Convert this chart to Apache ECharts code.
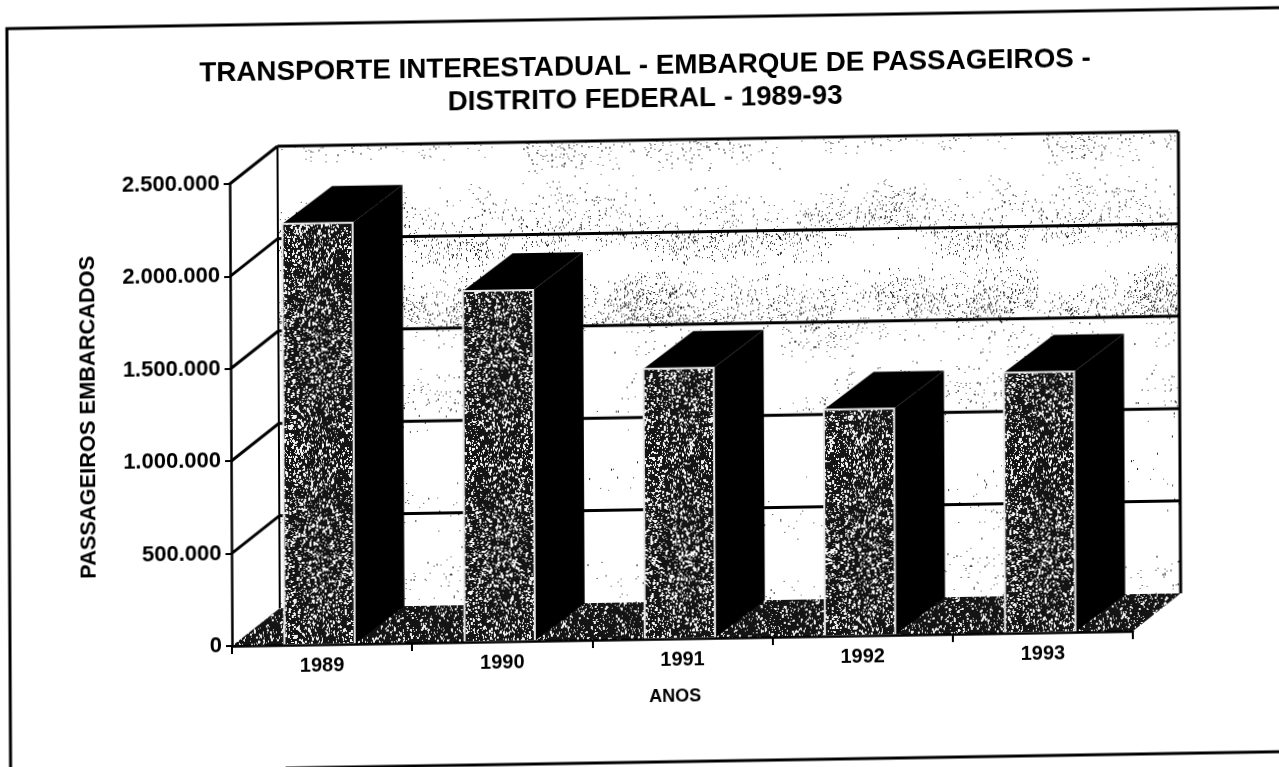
<!DOCTYPE html>
<html><head><meta charset="utf-8">
<style>
html,body{margin:0;padding:0;background:#fff;overflow:hidden;width:1279px;height:767px}
#c{position:absolute;left:0;top:0;width:1340px;height:830px;transform-origin:232px 646px;transform:matrix(1,-0.0165,0.005,1,0,0)}
</style>
<script src="https://cdn.jsdelivr.net/npm/echarts@6/dist/echarts.min.js"></script>
</head><body><div id="c"></div>
<script>
const titleLines = ['TRANSPORTE INTERESTADUAL - EMBARQUE DE PASSAGEIROS -','DISTRITO FEDERAL - 1989-93'];
const years = ['1989','1990','1991','1992','1993'];
const passengers = [2280000,1900000,1463000,1225000,1409000];
const yTicks = [0,500000,1000000,1500000,2000000,2500000];
const yName = 'PASSAGEIROS EMBARCADOS';
const xName = 'ANOS';
const wallDensity = [0.6,0.2,0.8,2,1.1];

function rng(seed){let s=seed;return ()=>{s=(s*1664525+1013904223)>>>0;return s/4294967296;};}
function speckle(w,h,bg,fg,count,seed){
  const c=document.createElement('canvas');c.width=w;c.height=h;
  const g=c.getContext('2d'),r=rng(seed);
  if(bg){g.fillStyle=bg;g.fillRect(0,0,w,h);}
  g.fillStyle=fg;
  for(let i=0;i<count;i++){const x=r()*w|0,y=r()*h|0,a=r();
    g.fillRect(x,y,a>.8?2:1,a>.93?3:(a>.55?2:1));}
  return c;
}
function wallTexture(dens,seed){
  const w=520,h=93,c=document.createElement('canvas');c.width=w;c.height=h;
  const g=c.getContext('2d'),r=rng(seed);g.fillStyle='#111';
  const clusters=Math.round(8+8*dens);
  for(let k=0;k<clusters;k++){
    const cx=r()*w,cy=20+r()*50,n=Math.round(55*dens);
    for(let i=0;i<n;i++){
      const x=cx+(r()+r()+r()-1.5)*45,y=cy+(r()+r()-1)*30;
      g.globalAlpha=.6+.4*r();
      g.fillRect(x|0,y|0,1,r()>.7?2:1);
    }
  }
  return c;
}
const frontTex={image:speckle(140,220,'#141414','#f4f4f4',4600,11),repeat:'repeat'};
const floorTex={image:speckle(140,60,'#141414','#f0f0f0',800,23),repeat:'repeat'};
const wallTex=wallDensity.map((d,i)=>({image:wallTexture(d,101+i*37),repeat:'repeat'}));

const wallDX=48,wallDY=-37,barDX=50,barDY=-37;
const poly=(pts,style)=>({type:'polygon',shape:{points:pts},style});
const line=(a,b,w)=>({type:'line',shape:{x1:a[0],y1:a[1],x2:b[0],y2:b[1]},style:{stroke:'#000',lineWidth:w}});

const chart=echarts.init(document.getElementById('c'),null,{renderer:'canvas'});
chart.setOption({
  animation:false,
  backgroundColor:'#fff',
  textStyle:{fontFamily:'"Liberation Sans",Arial,sans-serif'},
  title:{text:titleLines.join('\n'),left:643,top:52,textAlign:'center',
    textStyle:{fontSize:27.8,fontWeight:'bold',color:'#000',lineHeight:33,fontFamily:'"Liberation Sans",Arial,sans-serif'}},
  grid:{left:232,top:184,width:901,height:462,containLabel:false},
  graphic:[
    {type:'polyline',shape:{points:[[1340,25],[10,25],[10,830]]},style:{stroke:'#000',lineWidth:3,fill:null},z:1},
    {type:'line',shape:{x1:285,y1:769,x2:1340,y2:769},style:{stroke:'#000',lineWidth:3},z:1}
  ],
  xAxis:{type:'category',data:years,
    name:xName,nameLocation:'middle',nameGap:49,
    nameTextStyle:{fontSize:18,fontWeight:'bold',color:'#000',padding:[0,15,0,0]},
    axisLine:{lineStyle:{color:'#000',width:2.5}},
    axisTick:{show:true,length:8,lineStyle:{color:'#000',width:2}},
    axisLabel:{fontSize:20,fontWeight:'bold',color:'#000',margin:11},
    z:5},
  yAxis:{type:'value',min:0,max:2500000,interval:500000,
    name:yName,nameLocation:'middle',nameGap:125,nameRotate:90,
    nameTextStyle:{fontSize:21.8,fontWeight:'bold',color:'#000',padding:[0,0,6,0]},
    splitLine:{show:false},
    axisLine:{show:true,lineStyle:{color:'#000',width:2.5}},
    axisTick:{show:true,length:6,lineStyle:{color:'#000',width:2}},
    axisLabel:{fontSize:22,fontWeight:'bold',color:'#000',margin:10,
      formatter:v=>String(v).replace(/\B(?=(\d{3})+$)/g,'.')},
    z:5},
  series:[
    {type:'custom',coordinateSystem:'cartesian2d',silent:true,clip:false,z:2,
      data:yTicks.map(v=>[0,v]),encode:{x:0,y:1},
      renderItem(p,api){
        const i=p.dataIndex,v=api.value(1);
        const bw=api.size([1,0])[0];
        const c0=api.coord([0,v]);
        const a=[c0[0]-bw/2,c0[1]];
        const b=[a[0]+bw*years.length,a[1]];
        const A=[a[0]+wallDX,a[1]+wallDY],B=[b[0]+wallDX,b[1]+wallDY];
        const ch=[];
        if(i<yTicks.length-1){
          const n=api.coord([0,yTicks[i+1]]);
          const top=n[1]+wallDY;
          ch.push(poly([[A[0],A[1]],[B[0],B[1]],[B[0],top],[A[0],top]],{fill:wallTex[i]}));
        }
        if(i>0) ch.push(line(a,A,3));
        if(i>0) ch.push(line(A,B,3));
        if(i===0){
          const top=api.coord([0,2500000])[1]+wallDY;
          ch.push(line(A,[A[0],top],2));
          ch.push(line(B,[B[0],top],3));
          ch.push(poly([a,A,B,b],{fill:floorTex}));
        }
        return {type:'group',children:ch};
      }},
    {type:'custom',coordinateSystem:'cartesian2d',silent:true,clip:false,z:3,
      data:passengers.map((v,i)=>[i,v]),encode:{x:0,y:1},
      renderItem(p,api){
        const i=api.value(0),v=api.value(1);
        const c=api.coord([i,v]),base=api.coord([i,0]);
        const w=api.size([1,0])[0]*0.39;
        const l=c[0]-w/2-2.5,r=l+w;
        const y=c[1],y0=base[1];
        return {type:'group',children:[
          poly([[r,y],[r+barDX,y+barDY],[r+barDX,y0+barDY],[r,y0]],{fill:'#000'}),
          poly([[l,y],[l+barDX,y+barDY],[r+barDX,y+barDY],[r,y]],{fill:'#000'}),
          {type:'rect',shape:{x:l,y:y,width:w,height:y0-y},
            style:{fill:frontTex,stroke:'#e8e8e8',lineWidth:2}}
        ]};
      }}
  ]
});
</script></body></html>
